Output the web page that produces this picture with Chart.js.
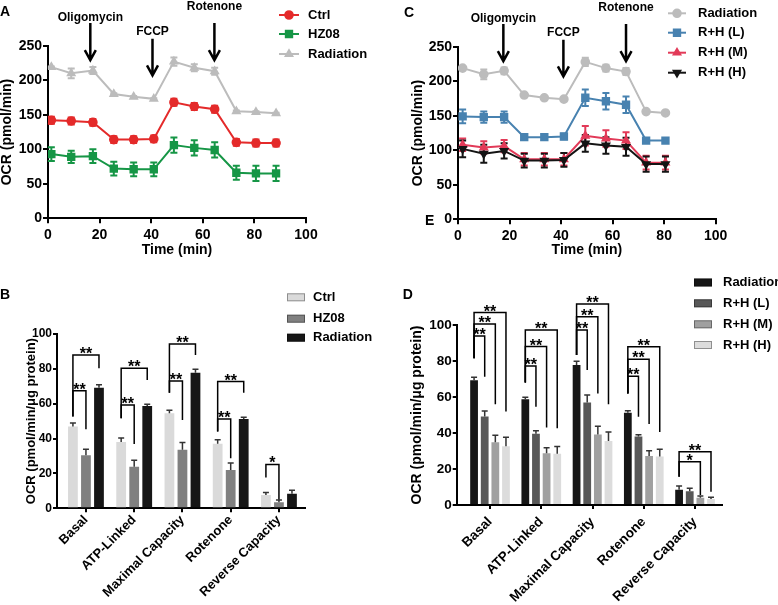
<!DOCTYPE html>
<html>
<head>
<meta charset="utf-8">
<title>OCR panels</title>
<script src="https://cdn.jsdelivr.net/npm/chart.js@4.4.1/dist/chart.umd.min.js"></script>
<style>
    body { margin: 0; background: #fff; }
    canvas { position: absolute; }
</style>
</head>
<body>
<canvas id="chart-a" width="390" height="280" style="left:0;top:0"></canvas>
<canvas id="chart-c" width="388" height="280" style="left:390px;top:0"></canvas>
<canvas id="chart-b" width="390" height="325" style="left:0;top:280px"></canvas>
<canvas id="chart-d" width="388" height="337" style="left:390px;top:268px"></canvas>
<script>
// ---- Panel A: OCR trace ----
const timeA = [1.3, 9, 17.4, 25.5, 33.2, 41, 48.8, 56.7, 64.6, 73, 80.6, 88.4];
const ctrlA = [142, 141, 139, 114, 114, 115, 168, 162, 158, 110, 109, 109];
const ctrlAErr = [5, 5, 5, 5, 5, 5, 5, 5, 5, 5, 5, 5];
const hz08A = [93, 89, 90, 72, 71, 71, 106, 102, 99, 66, 65, 65];
const hz08AErr = [10, 9, 10, 10, 10, 10, 11, 11, 11, 10, 11, 11];
const radA = [219, 210, 214, 180, 176, 173, 227, 218, 213, 155, 154, 152];
const radAErr = [1, 7, 5, 1, 1, 1, 6, 5, 5, 1, 1, 1];

// ---- Panel C: OCR trace ----
const timeC = [1.8, 10, 17.9, 25.7, 33.5, 41.1, 49.4, 57.4, 65.2, 73, 80.5];
const radC = [219, 210, 215, 180, 176, 174, 228, 219, 214, 156, 154];
const radCErr = [1, 7, 5, 1, 1, 1, 6, 5, 5, 1, 1];
const lowC = [149, 148, 148, 119, 119, 120, 176, 171, 166, 114, 114];
const lowCErr = [10, 8, 8, 4, 4, 4, 12, 12, 12, 2, 2];
const midC = [108, 104, 106, 87, 87, 87, 121, 117, 114, 82, 82];
const midCErr = [9, 9, 9, 9, 9, 9, 14, 12, 12, 10, 10];
const highC = [102, 95, 99, 85, 85, 86, 110, 107, 105, 80, 80];
const highCErr = [12, 13, 11, 10, 10, 10, 12, 12, 13, 11, 11];

// drug injections (time in min, arrow ends and label in OCR units)
const drugNames = ['Oligomycin', 'FCCP', 'Rotenone'];
const drugTimesA = [16.4, 40.5, 64.5];
const drugTimesC = [17.6, 40.9, 65.2];
const arrowTop = [283, 260, 283];
const arrowEnd = [229, 207, 229];
const drugLabelY = [291, 270, 306];

// ---- Panels B and D: bars ----
const categories = ['Basal', 'ATP-Linked', 'Maximal Capacity', 'Rotenone', 'Reverse Capacity'];
const catIndex = [0, 1, 2, 3, 4];

const ctrlB = [47, 38, 54.5, 37, 7.6];
const ctrlBErr = [2, 2.3, 1.8, 2.4, 1.5];
const hz08B = [30.4, 23.8, 33.6, 22, 3.4];
const hz08BErr = [3.5, 3.8, 4.2, 4, 1.3];
const radB = [69.2, 58.7, 77.8, 51.2, 8.4];
const radBErr = [1.7, 1, 2, 1, 2];

const radD = [69.3, 58.8, 77.8, 51.3, 8.5];
const radDErr = [1.7, 1, 2, 1, 2];
const lowD = [49.2, 39.6, 56.9, 38, 7.6];
const lowDErr = [3, 1.6, 4.2, 1, 1.7];
const midD = [34.8, 28.8, 39.2, 27.2, 4];
const midDErr = [4, 3, 4.5, 3, 1];
const highD = [32.6, 28.5, 35.6, 27, 3.3];
const highDErr = [5, 4, 5, 4, 1];

// significance: [category, from series, to series, bracket height, left leg end, right leg end, mark]
const bracketsB = [
    [0, 0, 2, 88, 52.6, 80.3, '**'], [0, 0, 1, 67.5, 52.6, 45.3, '**'],
    [1, 0, 2, 80.3, 51.6, 73.6, '**'], [1, 0, 1, 59.3, 51.6, 36.9, '**'],
    [2, 0, 2, 94.3, 66.3, 88, '**'], [2, 0, 1, 73, 66.3, 50.7, '**'],
    [3, 0, 2, 72.7, 44, 66.3, '**'], [3, 0, 1, 51.2, 44, 28.7, '**'],
    [4, 0, 1, 25.2, 17.6, 5, '*']
];
const bracketsD = [
    [0, 0, 1, 93.9, 81.5, 71.3, '**'], [0, 0, 2, 100.6, 81.5, 56, '**'], [0, 0, 3, 106.9, 81.5, 51.9, '**'],
    [1, 0, 1, 77.2, 68, 54.6, '**'], [1, 0, 2, 88, 68, 43, '**'], [1, 0, 3, 97.2, 68, 42.6, '**'],
    [2, 0, 1, 97.2, 83.3, 75, '**'], [2, 0, 2, 104.6, 83.3, 62, '**'], [2, 0, 3, 111.7, 83.3, 56, '**'],
    [3, 0, 1, 71.5, 62, 49, '**'], [3, 0, 2, 81, 62, 45, '**'], [3, 0, 3, 87.9, 62, 40.6, '**'],
    [4, 0, 2, 24, 15.7, 5.5, '*'], [4, 0, 3, 29.6, 15.7, 7.4, '**']
];

const FONT = "'Liberation Sans', Arial, sans-serif";
Chart.defaults.font.family = FONT;
Chart.defaults.font.weight = 'bold';
Chart.defaults.color = '#000';

const red = 'rgb(228, 42, 42)';
const green = 'rgb(22, 150, 70)';
const grey = 'rgb(188, 188, 188)';
const blue = 'rgb(72, 130, 176)';
const pink = 'rgb(226, 58, 88)';
const black = 'rgb(20, 20, 20)';

const tickMarks = { display: true, drawOnChartArea: false, drawTicks: true, tickLength: 5, color: '#000', lineWidth: 2 };
const barTickMarks = { display: true, drawOnChartArea: false, drawTicks: true, tickLength: 4, color: '#000', lineWidth: 2, offset: false };
const axisLine = { display: true, color: '#000', width: 2 };

function pts(xs, ys) {
    return xs.map((x, i) => ({ x: x, y: ys[i] }));
}

function drawErrors(chart, cfg) {
    const ctx = chart.ctx;
    const ys = chart.scales.y;
    chart.data.datasets.forEach((ds, i) => {
        const meta = chart.getDatasetMeta(i);
        ctx.save();
        ctx.strokeStyle = cfg.errorColor || ds.borderColor;
        ctx.lineWidth = cfg.errorWidth;
        ctx.beginPath();
        meta.data.forEach((el, j) => {
            const v = ds.data[j].y;
            const e = ds.errors[j];
            const top = ys.getPixelForValue(v + e);
            const bot = ys.getPixelForValue(cfg.oneSided ? v : v - e);
            ctx.moveTo(el.x, bot);
            ctx.lineTo(el.x, top);
            ctx.moveTo(el.x - cfg.cap, top);
            ctx.lineTo(el.x + cfg.cap, top);
            if (!cfg.oneSided) {
                ctx.moveTo(el.x - cfg.cap, bot);
                ctx.lineTo(el.x + cfg.cap, bot);
            }
        });
        ctx.stroke();
        ctx.restore();
    });
}

function drawBrackets(chart, list) {
    const ctx = chart.ctx;
    const ys = chart.scales.y;
    ctx.save();
    ctx.strokeStyle = '#000';
    ctx.fillStyle = '#000';
    ctx.lineWidth = 1.5;
    ctx.font = 'bold 16px ' + FONT;
    ctx.textAlign = 'center';
    ctx.textBaseline = 'alphabetic';
    list.forEach(b => {
        const x1 = chart.getDatasetMeta(b[1]).data[b[0]].x;
        const x2 = chart.getDatasetMeta(b[2]).data[b[0]].x;
        const yh = ys.getPixelForValue(b[3]);
        ctx.beginPath();
        ctx.moveTo(x1, ys.getPixelForValue(b[4]));
        ctx.lineTo(x1, yh);
        ctx.lineTo(x2, yh);
        ctx.lineTo(x2, ys.getPixelForValue(b[5]));
        ctx.stroke();
        ctx.fillText(b[6], (x1 + x2) / 2, yh + 4);
    });
    ctx.restore();
}

function drawArrows(chart, times) {
    const ctx = chart.ctx;
    const xs = chart.scales.x, ys = chart.scales.y;
    ctx.save();
    ctx.strokeStyle = '#000';
    ctx.fillStyle = '#000';
    ctx.lineWidth = 2.5;
    ctx.font = 'bold 12px ' + FONT;
    ctx.textAlign = 'center';
    ctx.textBaseline = 'middle';
    times.forEach((t, i) => {
        const x = xs.getPixelForValue(t);
        const y0 = ys.getPixelForValue(arrowTop[i]);
        const y1 = ys.getPixelForValue(arrowEnd[i]);
        ctx.beginPath();
        ctx.moveTo(x, y0);
        ctx.lineTo(x, y1);
        ctx.moveTo(x - 5.5, y1 - 10);
        ctx.lineTo(x, y1);
        ctx.lineTo(x + 5.5, y1 - 10);
        ctx.stroke();
        ctx.fillText(drugNames[i], x, ys.getPixelForValue(drugLabelY[i]));
    });
    ctx.restore();
}

function drawLegend(chart, lg) {
    const ctx = chart.ctx;
    ctx.save();
    ctx.font = 'bold 13px ' + FONT;
    ctx.textAlign = 'left';
    ctx.textBaseline = 'middle';
    chart.data.datasets.forEach((ds, i) => {
        const y = lg.ys[i];
        if (lg.kind === 'line') {
            ctx.strokeStyle = ds.borderColor;
            ctx.fillStyle = ds.borderColor;
            ctx.lineWidth = 2;
            ctx.beginPath();
            ctx.moveTo(lg.x0, y);
            ctx.lineTo(lg.x1, y);
            ctx.stroke();
            Chart.helpers.drawPoint(ctx, {
                pointStyle: ds.pointStyle, radius: ds.pointRadius,
                rotation: ds.pointRotation || 0, borderWidth: 1
            }, (lg.x0 + lg.x1) / 2, y);
        } else {
            ctx.fillStyle = ds.backgroundColor;
            ctx.fillRect(lg.x0, y - 4, lg.x1 - lg.x0, 8);
            ctx.strokeStyle = 'rgba(0,0,0,0.35)';
            ctx.lineWidth = 1;
            ctx.strokeRect(lg.x0 + 0.5, y - 3.5, lg.x1 - lg.x0 - 1, 7);
        }
        ctx.fillStyle = '#000';
        ctx.fillText(ds.label, lg.tx, y);
    });
    ctx.restore();
}

function drawPanelLabels(chart, labels) {
    const ctx = chart.ctx;
    ctx.save();
    ctx.fillStyle = '#000';
    ctx.font = 'bold 14px ' + FONT;
    ctx.textAlign = 'center';
    ctx.textBaseline = 'middle';
    labels.forEach(l => ctx.fillText(l.text, l.x, l.y));
    ctx.restore();
}

function extras(cfg) {
    return {
        id: 'extras',
        beforeDatasetsDraw(chart) {
            if (!cfg.oneSided) drawErrors(chart, cfg);
        },
        afterDatasetsDraw(chart) {
            if (cfg.oneSided) drawErrors(chart, cfg);
        },
        afterDraw(chart) {
            if (cfg.brackets) drawBrackets(chart, cfg.brackets);
            if (cfg.drugTimes) drawArrows(chart, cfg.drugTimes);
            drawLegend(chart, cfg.legend);
            drawPanelLabels(chart, cfg.labels);
        }
    };
}

function lineSet(label, xs, ys, errs, color, style, order, rotation) {
    return {
        label: label,
        data: pts(xs, ys),
        errors: errs,
        borderColor: color,
        backgroundColor: color,
        pointBackgroundColor: color,
        pointBorderColor: color,
        pointStyle: style,
        pointRotation: rotation || 0,
        pointRadius: style === 'rect' ? 4.5 : 3.8,
        borderWidth: 2,
        tension: 0,
        fill: false,
        order: order
    };
}

function barSet(label, ys, errs, color) {
    return {
        label: label,
        data: pts(catIndex, ys),
        errors: errs,
        backgroundColor: color,
        borderColor: color,
        borderWidth: 0
    };
}

function lineScales(yTitleWidth, xHeight) {
    return {
        x: {
            type: 'linear', min: 0, max: 100,
            ticks: { stepSize: 20, font: { size: 14 }, padding: 3 },
            grid: tickMarks, border: axisLine,
            title: { display: true, text: 'Time (min)', font: { size: 14 }, padding: 0 },
            afterFit: s => { s.height = xHeight; }
        },
        y: {
            min: 0, max: 250,
            ticks: { stepSize: 50, font: { size: 14 }, padding: 1 },
            grid: tickMarks, border: axisLine,
            title: { display: true, text: 'OCR (pmol/min)', font: { size: 14, lineHeight: 1 }, padding: 0 },
            afterFit: s => { s.width = yTitleWidth; }
        }
    };
}

function barScales(xMin, xMax, xHeight, yWidth, labelSize, labelPad, tickSize, titleSize) {
    return {
        x: {
            type: 'linear', min: xMin, max: xMax, bounds: 'data', offset: false,
            afterBuildTicks: s => { s.ticks = catIndex.map(i => ({ value: i })); },
            ticks: {
                callback: v => categories[v], autoSkip: false,
                minRotation: 45, maxRotation: 45, font: { size: labelSize }, padding: labelPad
            },
            grid: barTickMarks, border: axisLine,
            afterFit: s => { s.height = xHeight; }
        },
        y: {
            min: 0, max: 100,
            ticks: { stepSize: 20, font: { size: tickSize }, padding: 1 },
            grid: barTickMarks, border: axisLine,
            title: { display: true, text: 'OCR (pmol/min/\u03bcg protein)', font: { size: titleSize, lineHeight: 1 }, padding: 0 },
            afterFit: s => { s.width = yWidth; }
        }
    };
}

// Panel A
new Chart(document.getElementById('chart-a'), {
    type: 'line',
    data: {
        datasets: [
            lineSet('Ctrl', timeA, ctrlA, ctrlAErr, red, 'circle', 1),
            lineSet('HZ08', timeA, hz08A, hz08AErr, green, 'rect', 2),
            lineSet('Radiation', timeA, radA, radAErr, grey, 'triangle', 3)
        ]
    },
    options: {
        responsive: false, animation: false,
        layout: { padding: { left: 0, top: 45.7, right: 84, bottom: 21.6 } },
        plugins: { legend: { display: false }, tooltip: { enabled: false } },
        scales: lineScales(48, 40.1)
    },
    plugins: [extras({
        cap: 3.5, errorWidth: 2, oneSided: false,
        drugTimes: drugTimesA,
        legend: { kind: 'line', x0: 279, x1: 299, tx: 308, ys: [15, 34, 54] },
        labels: [{ text: 'A', x: 5, y: 12 }]
    })]
});

// Panel C
new Chart(document.getElementById('chart-c'), {
    type: 'line',
    data: {
        datasets: [
            lineSet('Radiation', timeC, radC, radCErr, grey, 'circle', 4),
            lineSet('R+H (L)', timeC, lowC, lowCErr, blue, 'rect', 3),
            lineSet('R+H (M)', timeC, midC, midCErr, pink, 'triangle', 2),
            lineSet('R+H (H)', timeC, highC, highCErr, black, 'triangle', 1, 180)
        ]
    },
    options: {
        responsive: false, animation: false,
        layout: { padding: { left: 21.3, top: 46.7, right: 62.3, bottom: 21.6 } },
        plugins: { legend: { display: false }, tooltip: { enabled: false } },
        scales: lineScales(46.7, 39.1)
    },
    plugins: [extras({
        cap: 3.5, errorWidth: 2, oneSided: false,
        drugTimes: drugTimesC,
        legend: { kind: 'line', x0: 278, x1: 296, tx: 308, ys: [13.3, 32.7, 52.7, 72.7] },
        labels: [{ text: 'C', x: 19, y: 13 }, { text: 'E', x: 39.7, y: 221.3 }]
    })]
});

// Panel B
new Chart(document.getElementById('chart-b'), {
    type: 'bar',
    data: {
        datasets: [
            barSet('Ctrl', ctrlB, ctrlBErr, 'rgb(218, 218, 218)'),
            barSet('HZ08', hz08B, hz08BErr, 'rgb(128, 128, 128)'),
            barSet('Radiation', radB, radBErr, 'rgb(22, 22, 22)')
        ]
    },
    options: {
        responsive: false, animation: false,
        layout: { padding: { left: 24.5, top: 54, right: 85, bottom: 0 } },
        datasets: { bar: { categoryPercentage: 0.81, barPercentage: 0.75 } },
        plugins: { legend: { display: false }, tooltip: { enabled: false } },
        scales: barScales(-0.6, 4.54, 96.7, 32.5, 13, 0, 12, 13)
    },
    plugins: [extras({
        cap: 3, errorWidth: 1.5, oneSided: true, errorColor: '#333',
        brackets: bracketsB,
        legend: { kind: 'box', x0: 287, x1: 305, tx: 313, ys: [17.3, 38.7, 57.7] },
        labels: [{ text: 'B', x: 5, y: 14.7 }]
    })]
});

// Panel D
new Chart(document.getElementById('chart-d'), {
    type: 'bar',
    data: {
        datasets: [
            barSet('Radiation', radD, radDErr, 'rgb(22, 22, 22)'),
            barSet('R+H (L)', lowD, lowDErr, 'rgb(88, 88, 88)'),
            barSet('R+H (M)', midD, midDErr, 'rgb(160, 160, 160)'),
            barSet('R+H (H)', highD, highDErr, 'rgb(220, 220, 220)')
        ]
    },
    options: {
        responsive: false, animation: false,
        layout: { padding: { left: 20.6, top: 57, right: 56.3, bottom: 0 } },
        datasets: { bar: { categoryPercentage: 0.83, barPercentage: 0.73 } },
        plugins: { legend: { display: false }, tooltip: { enabled: false } },
        scales: barScales(-0.65, 4.52, 100, 46.1, 13.5, 5, 13.5, 14)
    },
    plugins: [extras({
        cap: 3, errorWidth: 1.5, oneSided: true, errorColor: '#333',
        brackets: bracketsD,
        legend: { kind: 'box', x0: 304, x1: 322, tx: 333, ys: [14.5, 35.3, 56.3, 77] },
        labels: [{ text: 'D', x: 17.8, y: 27.3 }]
    })]
});
</script>
</body>
</html>
